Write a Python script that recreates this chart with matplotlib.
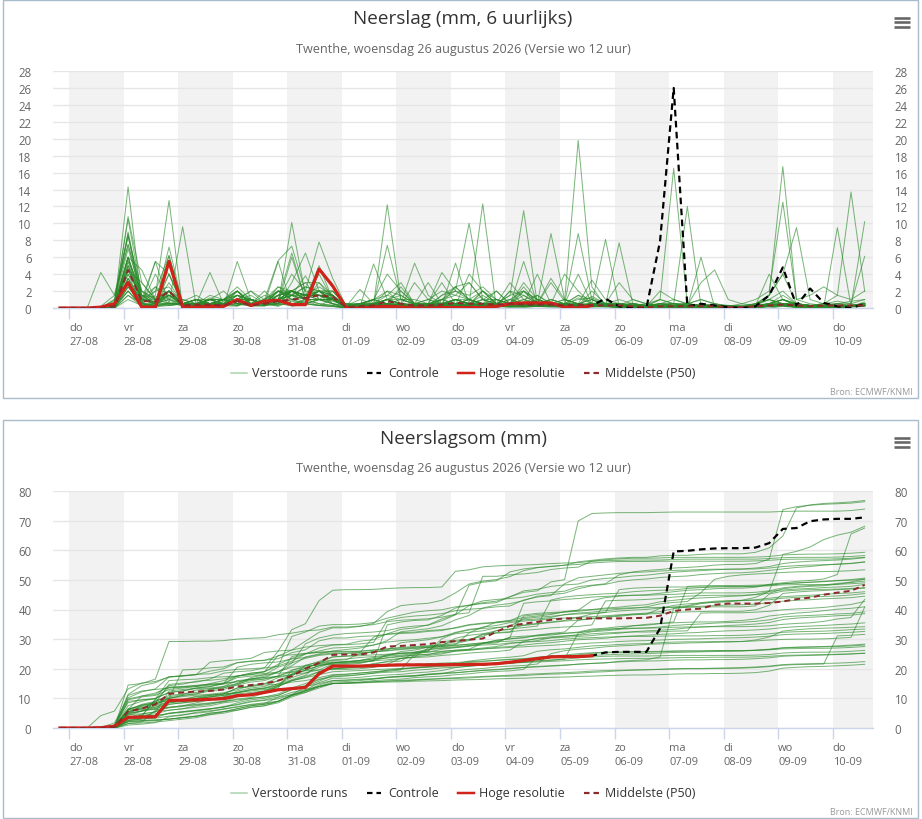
import numpy as np
import pandas as pd
import matplotlib
matplotlib.use("Agg")
import matplotlib.pyplot as plt
from matplotlib.lines import Line2D
from matplotlib.patches import Rectangle

plt.rcParams["font.family"] = ["Open Sans", "DejaVu Sans"]

# ---------------- data ----------------
TIMES = pd.date_range("2026-08-26 20:00", periods=60, freq="6h")   # valid times (local)
DAYS = pd.date_range("2026-08-27", "2026-09-10", freq="D")
WEEKDAYS_NL = ["ma", "di", "wo", "do", "vr", "za", "zo"]

TITLE_TOP = "Neerslag (mm, 6 uurlijks)"
TITLE_BOT = "Neerslagsom (mm)"
SUBTITLE = "Twenthe, woensdag 26 augustus 2026 (Versie wo 12 uur)"
LEGEND_LABELS = ["Verstoorde runs", "Controle", "Hoge resolutie", "Middelste (P50)"]
SOURCE = "Bron: ECMWF/KNMI"

HRES_6H = [0, 0, 0, 0.1, 0.5, 3.0, 0.1, 0.1, 5.5,
           0.1, 0.1, 0.2, 0.2, 1.0, 0.3, 0.8, 0.9, 0.4, 0.4, 4.6, 2.6,
           0, 0, 0.1, 0.2, 0.1, 0, 0, 0.05, 0.05, 0.05, 0.05, 0.2, 0.5, 0.6, 0.6, 0.6, 0.1, 0, 0.3]

CONTROL_6H = [0, 0, 0, 0.1, 0.5, 3.0, 0.1, 0.1, 5.5,
              0.1, 0.1, 0.2, 0.2, 1.0, 0.3, 0.8, 0.9, 0.4, 0.4, 4.6, 2.6,
              0, 0, 0.1, 0.2, 0.1, 0, 0, 0.05, 0.05, 0.05, 0.05, 0.2, 0.5, 0.6, 0.6, 0.6, 0.1, 0, 0.3,
              1.1, 0.2, 0, 0, 7.9, 26.0, 0.2, 0.5, 0.3, 0.1, 0, 0.2, 1.5, 4.8, 0.3, 2.3, 0.6, 0.2, 0, 0.5]

P50_6H = [0, 0, 0, 0, 0.2, 4.5, 0.8, 0.8, 2.0,
          0.3, 0.4, 0.4, 0.3, 0.8, 0.3, 0.5, 0.8, 1.0, 1.2, 1.5, 1.3,
          0.1, 0.2, 0.3, 0.8, 0.5, 0.3, 0.3, 0.4, 0.6, 0.5, 0.5, 0.4, 0.5, 0.4, 0.4, 0.4, 0.3, 0.4, 0.3,
          0.3, 0.3, 0.2, 0.1, 0.2, 0.2, 0.2, 0.2, 0.2, 0.1, 0.1, 0.2, 0.3, 0.4, 0.3, 0.2, 0.3, 0.3, 0.3, 0.3]

P50_SUM = [0, 0, 0, 0, 0.3, 5.6, 6.5, 8.0, 11.5,
           12.0, 12.3, 12.5, 13.0, 14.0, 14.5, 15.0, 16.0, 17.5, 20.0, 22.0, 24.7,
           24.8, 24.8, 25.5, 27.5, 27.7, 28.0, 28.3, 29.0, 29.3, 29.8, 30.2, 32.5, 34.5, 35.2, 35.8, 36.5, 37.0, 37.0, 37.0,
           37.0, 37.0, 37.1, 37.2, 37.9, 39.5, 40.0, 40.3, 41.6, 42.0, 42.0, 42.0, 42.2, 42.7, 43.5, 44.0, 45.0, 45.7, 46.3, 48.3]

# perturbed ensemble members, 6-hourly precipitation (mm)
M01 = [0, 0, 0, 0.2, 1.5, 8.5, 2.0, 1.0, 4.0,
       0.5, 0.3, 1.2, 0.8, 2.0, 0.5, 0.3, 1.5, 2.0, 3.0, 3.0, 1.5,
       0, 0.5, 1.0, 4.0, 2.0, 0.5, 0.3, 1.0, 2.5, 3.0, 1.0, 0.5, 1.0, 2.0, 1.0, 0.5, 0.3, 1.2, 0.5,
       0.5, 0.3, 0.2, 0, 0.5, 0.2, 0, 0.3, 0.2, 0, 0, 0.5, 1.5, 4.0, 9.5, 1.0, 0.5, 0.2, 0.3, 0.5]
M02 = [0, 0, 0, 0, 0.8, 4.5, 1.2, 2.5, 1.5,
       0.8, 1.5, 0.5, 0.3, 1.0, 2.0, 0.5, 0.2, 0.8, 0.5, 1.0, 2.0,
       0.2, 0.3, 0.5, 12.2, 1.0, 0.5, 0.2, 1.5, 2.5, 1.0, 0.5, 0.3, 2.0, 1.5, 0.5, 3.0, 0.8, 19.8, 2.5,
       0.2, 0.1, 0, 0, 0.1, 0.1, 0, 0, 0, 0, 0, 0, 0, 0.2, 0.1, 0, 0, 0, 0.2, 0.5]
M03 = [0, 0, 0, 0, 0.5, 10.8, 3.0, 1.0, 2.0,
       0.3, 0.5, 0.2, 1.0, 0.5, 0.2, 0.3, 0.5, 10.1, 1.5, 2.0, 0.5,
       0, 0.2, 0.5, 1.5, 1.0, 1.0, 0.5, 0.3, 1.0, 0.5, 1.5, 0.5, 0.3, 0.5, 1.0, 0.5, 0.5, 1.5, 0.5,
       0.5, 3.0, 1.0, 0.5, 0.3, 0.5, 0.2, 0.3, 0.5, 0.2, 0, 0.3, 1.5, 16.7, 1.0, 0.5, 0.3, 0.2, 0.2, 0.5]
M04 = [0, 0, 0, 0, 0.3, 6.0, 1.5, 0.5, 1.0,
       0.2, 0.5, 1.0, 0.5, 0.3, 1.0, 0.5, 1.0, 4.0, 2.0, 1.5, 0.5,
       0, 0.2, 0.3, 1.0, 0.5, 0.3, 0.2, 1.0, 0.5, 0.3, 2.0, 1.0, 0.5, 0.3, 1.0, 0.5, 0.5, 4.0, 0.5,
       0.5, 0.3, 0.5, 0.2, 2.0, 1.0, 0.5, 0.3, 0.2, 0.2, 0.5, 1.0, 2.0, 12.5, 1.0, 1.5, 2.5, 1.5, 1.0, 2.0]
M05 = [0, 0, 0, 0, 0, 3.5, 0.5, 5.5, 0.5,
       9.6, 0.2, 0.5, 0.3, 1.5, 0.5, 0.3, 0.5, 2.0, 1.0, 3.0, 1.0,
       0, 0.5, 0.2, 0.5, 0.3, 0.2, 0.5, 0.3, 1.0, 1.0, 0.5, 0.3, 0.5, 2.0, 0.5, 0.3, 0.2, 0.5, 3.3,
       1.0, 0.5, 0.3, 0.2, 0.5, 0.5, 0.5, 0.2, 0.3, 0.2, 0, 0.3, 1.0, 0.5, 0.5, 0.3, 0.5, 1.5, 13.7, 2.0]
M06 = [0, 0, 0, 0, 0.2, 14.3, 0.5, 1.5, 12.7,
       0, 0.1, 0, 0.2, 0.5, 0.3, 0.2, 1.0, 0.5, 0.8, 0.3, 1.0,
       0, 0.3, 0.5, 1.0, 0.5, 0.2, 0.3, 0.5, 1.0, 0.5, 12.3, 0, 0.5, 0.3, 0.5, 1.0, 0.5, 0.3, 2.0,
       0.5, 0.3, 0.2, 0, 0.1, 0.2, 0, 0, 0, 0, 0, 0.1, 0.2, 0.5, 0.2, 0.1, 0, 0.1, 0.2, 0.3]
M07 = [0, 0, 0, 0, 0.5, 5.0, 1.0, 2.0, 6.2,
       0.5, 0.3, 1.0, 2.0, 0.5, 0.3, 1.0, 5.6, 7.3, 2.0, 7.8, 3.5,
       0.2, 0, 0.1, 0.3, 0.2, 0.1, 0, 0.2, 5.3, 0.5, 1.0, 0.3, 0.2, 0.1, 0.2, 0.3, 0.2, 0.1, 0.5,
       0.2, 0.1, 0.1, 0, 0, 0.2, 0.1, 0, 0, 0, 0, 0, 0.2, 0.3, 0.1, 0, 0, 0.1, 0.2, 0.3]
M08 = [0, 0, 0, 0, 1.0, 8.8, 1.0, 0.5, 3.0,
       0.5, 1.0, 0.3, 0.5, 1.0, 0.5, 0.3, 0.5, 3.0, 6.5, 2.0, 1.0,
       0.5, 0.2, 0.3, 0.5, 1.0, 0.5, 0.3, 1.5, 2.0, 10.0, 1.0, 0.5, 3.0, 1.0, 0.5, 0.3, 0.5, 0.2, 0.5,
       0.3, 0.2, 0, 0, 0.1, 0, 0, 0, 0, 0, 0, 0.1, 0.2, 0.3, 0.1, 0, 0, 0.1, 0.2, 0.3]
M09 = [0, 0, 0, 4.2, 1.5, 7.5, 2.0, 0.5, 1.5,
       0.3, 0.5, 4.2, 0.5, 0.3, 0.5, 2.0, 0.5, 0.3, 1.0, 0.5, 0.3,
       0, 0.3, 0.5, 7.4, 1.0, 0.5, 0.3, 0.5, 1.0, 0.5, 0.3, 0.5, 0.3, 2.0, 1.0, 0.5, 4.0, 2.0, 0.5,
       0.5, 0.5, 0.3, 0.2, 0.3, 0.2, 0.1, 0.2, 0.1, 0, 0, 0.1, 0.3, 0.5, 0.3, 0.2, 0.1, 0.2, 0.3, 0.5]
M10 = [0, 0, 0, 0, 0.3, 6.0, 4.5, 1.0, 2.0,
       0.2, 0.3, 0.5, 0.2, 5.5, 1.0, 0.5, 0.3, 1.0, 0.5, 1.0, 0.5,
       0, 0.2, 5.2, 1.0, 0.5, 0.2, 0.5, 0.3, 0.5, 1.0, 0.5, 0.3, 0.5, 0.5, 0.3, 0.5, 1.0, 0.5, 0.3,
       0.5, 0.5, 0.3, 0.5, 1.0, 0.5, 0.3, 3.0, 4.5, 1.0, 0.5, 0.3, 0.2, 0.3, 0.2, 0.1, 0, 0.1, 0.2, 0.3]
M11 = [0, 0, 0, 0, 0.2, 3.0, 1.0, 5.5, 4.0,
       0.2, 0.5, 0.3, 0.5, 0.3, 1.0, 0.5, 2.0, 1.5, 0.5, 0.3, 0.2,
       0, 0.3, 1.0, 2.0, 0.5, 0.3, 0.5, 3.0, 0.5, 0.3, 1.0, 2.0, 0.5, 0.5, 0.5, 8.8, 1.0, 0.5, 0.3,
       0.3, 0.2, 0.5, 0.3, 0.2, 0.1, 0.5, 0.3, 0.2, 0.1, 0, 0.2, 0.3, 0.5, 0.3, 0.2, 0.3, 0.3, 0.3, 0.5]
M12 = [0, 0, 0, 0, 0.5, 4.0, 0.3, 0.5, 7.2,
       0.5, 0.3, 0.2, 0.5, 1.0, 2.0, 1.0, 0.5, 0.3, 0.5, 0.3, 0.2,
       0, 0.2, 0.5, 1.0, 2.0, 0.5, 3.0, 0.5, 0.3, 0.5, 0.3, 0.5, 1.5, 11.5, 0.5, 0.3, 0.5, 0.3, 0.5,
       0.2, 0.3, 0.1, 0, 0.2, 0.1, 0.3, 0.2, 0, 0, 0, 0.2, 0.5, 1.0, 0.5, 0.3, 0.2, 0.5, 0.3, 0.5]
M13 = [0, 0, 0, 0, 0.1, 5.0, 0.5, 2.0, 2.5,
       0.5, 0.5, 0.3, 0.5, 1.0, 1.5, 0.5, 1.0, 1.5, 3.8, 1.0, 0.8,
       0.3, 0.5, 0.3, 0.5, 0.5, 0.3, 0.5, 4.2, 2.0, 1.0, 0.5, 0.3, 0.5, 2.5, 0.5, 0.3, 0.5, 0.3, 0.2,
       0.3, 7.7, 0.5, 0.2, 0.1, 0.1, 0, 0, 0.1, 0, 0, 0.1, 0.2, 0.3, 0.1, 0, 0, 0.1, 0.2, 0.3]
M14 = [0, 0, 0, 0, 0.5, 10.5, 1.5, 0.5, 0.5,
       0.3, 0.2, 0.5, 0.3, 1.0, 0.5, 0.3, 1.0, 6.5, 1.0, 0.5, 0.3,
       0, 0, 0.3, 0.5, 0.3, 0.2, 0.5, 0.3, 0.5, 1.0, 2.0, 0.5, 0.3, 5.5, 0.5, 0.3, 0.5, 0.3, 0.5,
       0.3, 0.2, 0.2, 0, 0.1, 0.1, 0, 0, 0.1, 0, 0, 0.3, 4.0, 1.0, 0.3, 0.2, 0.1, 0.1, 0.2, 0.3]
M15 = [0, 0, 0, 0, 0.2, 4.5, 3.0, 1.0, 0.5,
       0.5, 1.0, 0.5, 0.3, 2.0, 0.5, 0.5, 0.3, 1.5, 1.5, 4.0, 1.0,
       0.2, 2.2, 0.5, 0.3, 0.5, 0.3, 0.5, 0.5, 0.3, 4.0, 2.0, 0.5, 1.0, 0.5, 0.3, 0.5, 0.2, 0.3, 0.2,
       0.3, 0.3, 0.2, 0.1, 0.2, 0.3, 0.2, 0.1, 0.1, 0, 0, 0.5, 1.5, 4.0, 0.5, 0.3, 0.2, 0.3, 0.2, 0.3]
M16 = [0, 0, 0, 0, 0.5, 8.5, 0.5, 0.3, 6.2,
       0.3, 0.2, 0.5, 0.3, 0.2, 1.0, 0.5, 5.5, 0.2, 0.5, 0.3, 0.2,
       0, 0.2, 0.5, 0.3, 0.5, 0.3, 0.2, 0.5, 1.0, 0.5, 2.0, 0.5, 0.3, 0.5, 0.3, 0.5, 0.3, 0.2, 0.5,
       8.1, 0.2, 0.1, 0.2, 0.3, 0.5, 0.3, 0.2, 0.1, 0, 0, 0.2, 0.5, 1.5, 0.5, 0.3, 0.2, 0.5, 0.8, 1.0]
M17 = [0, 0, 0, 0, 0, 1.5, 0.5, 4.0, 1.0,
       0.5, 0.5, 0.5, 0.5, 0.5, 0.5, 0.5, 0.5, 2.0, 1.0, 1.0, 1.0,
       0.1, 0.2, 0.3, 0.5, 0.3, 0.2, 0.5, 0.3, 0.2, 0.5, 0.3, 0.2, 0.5, 0.3, 0.2, 0.3, 0.2, 0.5, 0.2,
       0.2, 0.5, 0.3, 0.2, 1.0, 16.5, 0.5, 1.0, 0.5, 0.3, 0.2, 0.1, 0.2, 0.5, 0.3, 0.2, 0.1, 0.2, 0.3, 0.5]
M18 = [0, 0, 0, 0, 0.2, 5.5, 0.5, 0.3, 2.0,
       0.5, 0.5, 1.0, 1.0, 0.5, 0.5, 0.5, 0.5, 6.0, 1.0, 1.0, 0.5,
       0.3, 0.5, 1.0, 0.5, 0.3, 0.5, 0.5, 1.0, 0.5, 0.5, 1.0, 1.0, 0.5, 0.5, 0.5, 0.3, 0.5, 0.5, 1.0,
       0.3, 0.5, 0.3, 0.2, 0.5, 0.3, 0.2, 0.1, 0, 0.2, 0.3, 0.5, 1.0, 0.5, 0.5, 0.3, 0.5, 0.5, 0.3, 0.5]
M19 = [0, 0, 0, 0, 0.5, 3.0, 0.3, 0.2, 4.0,
       0.5, 0.5, 0.5, 0.5, 1.0, 0.5, 1.0, 2.0, 1.0, 0.5, 1.0, 1.0,
       0.2, 0.3, 0.5, 0.5, 0.3, 0.5, 0.3, 0.5, 0.5, 1.0, 0.5, 0.5, 0.3, 0.5, 1.5, 0.5, 0.3, 0.5, 0.5,
       0.2, 0.3, 0.2, 0.1, 0.3, 0.2, 0.1, 0, 0.1, 0, 0, 0.2, 0.3, 0.2, 0.1, 0, 0.1, 0.2, 0.3, 10.2]
M20 = [0, 0, 0, 0, 0, 3.0, 0.5, 0.5, 1.0,
       0.5, 0.5, 0.5, 0.5, 1.5, 1.0, 0.5, 1.0, 2.0, 1.0, 5.0, 1.0,
       0.3, 0.5, 1.0, 0.5, 0.3, 3.0, 1.0, 0.5, 0.3, 0.5, 0.5, 0.3, 2.0, 0.3, 0.2, 0.5, 0.3, 0.2, 0.5,
       0.5, 0.3, 1.0, 0.5, 0.3, 0.5, 12.0, 0.2, 0.1, 0, 0, 0.1, 0.2, 0.3, 0.2, 0.3, 0.2, 0.3, 0.2, 0.3]
M21 = [0, 0, 0, 0, 0.3, 4.5, 1.0, 0.5, 0.5,
       0.5, 0.5, 0.5, 0.5, 1.0, 0.5, 1.5, 1.0, 0.5, 1.0, 2.0, 1.0,
       0.2, 0.5, 0.5, 0.3, 0.2, 0.5, 0.3, 0.5, 0.2, 0.3, 0.5, 0.3, 0.2, 0.5, 0.3, 0.2, 0.5, 8.8, 1.0,
       0.3, 0.2, 0.1, 0, 0.1, 0.2, 0.1, 0, 0.1, 0, 0, 0.1, 0.2, 0.5, 0.3, 0.2, 0.5, 0.8, 0.5, 6.1]
M22 = [0, 0, 0, 0, 0.2, 6.0, 0.5, 0.3, 1.5,
       0.5, 1.0, 0.5, 0.5, 1.0, 1.0, 0.5, 1.5, 2.0, 1.5, 2.0, 1.5,
       0, 0.2, 0.5, 0.3, 0.5, 0.3, 0.2, 0.5, 0.3, 0.5, 0.3, 0.2, 0.5, 3.0, 1.0, 0.5, 0.3, 0.2, 0.5,
       0.3, 0.2, 0.1, 0, 0.1, 0.2, 0.1, 6.0, 0.1, 0, 0, 0.2, 0.3, 0.5, 0.3, 0.2, 0.3, 0.5, 0.5, 1.0]
M23 = [0, 0, 0, 0, 0, 2.5, 0.5, 0.3, 0.7,
       0.5, 0.5, 0.5, 1.0, 0.5, 1.0, 0.5, 0.5, 2.0, 1.0, 2.0, 1.5,
       0.2, 0.3, 0.5, 0.5, 0.3, 0.2, 0.5, 0.3, 1.0, 0.5, 0.3, 0.5, 0.3, 0.2, 0.5, 3.5, 1.0, 0.5, 0.3,
       0.5, 0.3, 0.2, 0.3, 0.2, 0.1, 0.2, 0.1, 0.1, 0.1, 0.2, 0.5, 1.0, 2.0, 0.5, 0.3, 0.2, 0.1, 0.2, 0.2]
M24 = [0, 0, 0, 0, 0.3, 3.5, 0.3, 0.2, 0.5,
       0.5, 0.5, 0.5, 1.0, 0.5, 1.0, 0.5, 0.5, 1.5, 2.5, 2.0, 2.0,
       0.3, 0.5, 0.3, 0.2, 0.5, 5.3, 1.5, 0.5, 0.3, 0.5, 0.3, 0.2, 0.5, 0.3, 0.2, 0.3, 0.5, 0.3, 0.2,
       0.2, 0.1, 0.1, 0, 0.1, 0.1, 0, 0, 0.1, 0, 0.1, 0.2, 0.3, 0.5, 0.2, 0.1, 0.1, 0.2, 0.3, 0.2]
M25 = [0, 0, 0, 0, 0.2, 2.0, 0.3, 0.2, 0.3,
       0.5, 0.5, 0.5, 1.0, 0.5, 1.0, 0.5, 1.5, 2.0, 1.5, 1.5, 1.0,
       0.2, 0.3, 0.5, 0.3, 0.2, 0.5, 0.3, 0.2, 0.5, 0.3, 0.5, 0.3, 0.2, 0.5, 4.0, 0.5, 0.3, 0.5, 0.3,
       0.2, 0.1, 0.1, 0, 0.1, 0.1, 0, 0, 0.1, 0, 0, 0.2, 0.3, 0.5, 0.2, 0.1, 0.1, 0.2, 0.3, 0.3]
M26 = [0, 0, 0, 0, 0.2, 2.5, 0.5, 2.5, 0.3,
       0.5, 0.5, 0.5, 1.0, 0.5, 1.0, 0.5, 1.0, 2.0, 1.5, 1.5, 1.0,
       0.2, 0.3, 0.5, 1.0, 0.5, 0.3, 0.5, 0.5, 0.3, 0.5, 0.3, 0.5, 0.3, 0.2, 0.5, 0.3, 0.2, 0.3, 0.5,
       0.2, 0.1, 0.1, 0, 0.1, 0.2, 0.1, 0, 0.1, 0, 0, 0.1, 0.2, 0.3, 0.1, 0.1, 0, 0.1, 0.2, 0.3]
M27 = [0, 0, 0, 0, 0, 1.0, 0.3, 0.5, 2.0,
       0.5, 1.0, 0.5, 0.5, 1.0, 0.5, 0.5, 2.0, 1.0, 1.5, 2.5, 1.5,
       0, 0.3, 0.5, 0.3, 0.2, 0.5, 0.3, 0.5, 1.0, 0.5, 0.3, 0.5, 0.3, 0.2, 0.5, 0.3, 0.2, 0.5, 0.3,
       0.2, 0.1, 0, 0, 0.1, 0.1, 0, 0, 0, 0, 0, 0.1, 0.2, 0.5, 0.2, 0.1, 0, 0.1, 0.2, 0.3]
M28 = [0, 0, 0, 0, 0.2, 2.0, 0.3, 0.2, 0.3,
       0.5, 0.5, 1.0, 0.5, 1.0, 1.0, 0.5, 1.0, 2.0, 1.5, 2.0, 1.5,
       0.2, 0.3, 0.2, 0.5, 0.3, 0.2, 0.5, 0.3, 0.2, 0.3, 0.5, 0.3, 0.2, 0.5, 0.3, 0.2, 0.3, 0.2, 0.3,
       0.2, 0.3, 0.2, 0.1, 0.1, 0.2, 0.1, 0, 0.1, 0, 0.1, 0.2, 0.3, 0.5, 0.2, 0.1, 0.1, 0.2, 0.2, 0.3]
M29 = [0, 0, 0, 0, 0, 1.5, 0.2, 0.3, 0.5,
       0.5, 0.5, 1.0, 0.5, 1.0, 1.0, 0.5, 1.0, 2.0, 1.5, 1.5, 1.5,
       0.1, 0.2, 0.3, 0.2, 0.1, 0.2, 0.3, 0.2, 0.1, 0.2, 0.3, 0.2, 0.1, 0.2, 0.3, 0.2, 0.1, 0.2, 0.3,
       0.2, 0.3, 0.2, 0.1, 0.2, 0.1, 0.1, 0, 0.1, 0, 0.1, 0.2, 0.3, 0.5, 0.2, 0.1, 0.1, 9.5, 0.2, 0.3]
M30 = [0, 0, 0, 0, 0, 2.0, 0.2, 0.3, 0.5,
       0.5, 0.5, 1.0, 0.5, 1.0, 1.0, 0.5, 1.0, 2.0, 1.5, 1.5, 1.0,
       0.1, 0.1, 0.2, 0.1, 0.1, 0.2, 0.1, 0.1, 0.2, 0.1, 0.1, 0.2, 0.1, 0.1, 0.2, 0.1, 0.1, 0.2, 0.1,
       0.2, 0.1, 0.1, 0, 0.1, 0.2, 0.1, 0, 0.1, 0, 0.1, 0.2, 0.5, 1.0, 0.3, 0.2, 0.1, 0.2, 0.2, 0.3]
M31 = [0, 0, 0, 0, 0.5, 7.0, 1.5, 1.0, 2.0,
       0.5, 1.0, 0.5, 1.0, 2.5, 1.0, 0.5, 2.0, 1.5, 2.5, 2.0, 1.0,
       0.3, 1.0, 0.5, 2.0, 1.5, 0.5, 1.0, 2.0, 1.5, 3.0, 1.0, 0.5, 1.5, 2.0, 0.5, 1.0, 0.5, 0.3, 1.4,
       0.5, 0.3, 0.5, 0.3, 0.5, 0.5, 0.3, 0.2, 0.3, 0.2, 0.1, 0.3, 0.5, 1.0, 0.5, 0.3, 0.2, 0.2, 0.3, 0.5]
M32 = [0, 0, 0, 0, 0.3, 6.0, 1.0, 0.7, 2.0,
       1.0, 0.5, 1.5, 1.0, 2.0, 0.5, 1.0, 1.5, 2.0, 3.0, 1.0, 1.0,
       0.5, 0.5, 1.0, 1.5, 3.0, 0.5, 0.5, 1.0, 2.0, 1.5, 2.5, 1.0, 0.5, 1.0, 1.5, 0.5, 0.5, 1.5, 1.0,
       0.5, 1.0, 0.5, 0.3, 0.5, 0.3, 0.2, 0.5, 0.3, 0.2, 0.1, 0.3, 0.5, 0.5, 0.5, 0.3, 0.5, 0.3, 0.2, 0.5]
M33 = [0, 0, 0, 0, 0.5, 5.5, 2.0, 1.0, 2.0,
       0.5, 0.5, 1.0, 0.5, 1.5, 1.0, 0.5, 1.0, 1.5, 1.0, 2.0, 2.0,
       0.3, 0.5, 1.0, 0.5, 2.5, 0.5, 0.5, 1.0, 1.5, 1.0, 0.5, 2.0, 0.5, 1.0, 0.5, 0.5, 1.0, 0.5, 0.2,
       0.5, 0.3, 0.5, 0.3, 1.0, 0.5, 0.5, 0.3, 0.2, 0.3, 0.2, 0.5, 1.0, 0.5, 0.3, 0.2, 0.3, 0.2, 0.2, 0.7]
M34 = [0, 0, 0, 0, 0.2, 4.0, 1.5, 1.3, 2.0,
       0.5, 1.0, 0.5, 0.5, 2.0, 0.5, 1.0, 2.0, 1.0, 1.5, 1.5, 1.0,
       0.5, 0.3, 0.5, 1.0, 1.5, 0.5, 1.0, 0.5, 2.5, 1.0, 0.5, 1.0, 0.5, 1.5, 0.5, 0.5, 0.5, 1.0, 1.2,
       0.5, 0.5, 0.3, 0.2, 0.5, 0.3, 0.5, 1.0, 0.5, 0.2, 0.1, 0.2, 0.5, 0.5, 0.3, 0.2, 0.3, 0.3, 0.2, 0.4]
M35 = [0, 0, 0, 0, 0.5, 9.0, 1.0, 0.5, 2.0,
       0.5, 0.5, 1.0, 1.0, 1.5, 0.5, 1.0, 2.5, 2.0, 1.5, 1.0, 1.0,
       0.2, 0.3, 0.5, 1.0, 0.5, 0.3, 0.5, 0.5, 1.0, 0.5, 0.5, 1.0, 0.5, 0.3, 0.5, 0.5, 0.5, 0.3, 0.6,
       0.5, 0.5, 0.5, 0.3, 0.5, 1.0, 0.5, 0.3, 0.2, 0.2, 0.1, 0.2, 0.5, 0.5, 0.3, 0.2, 0.3, 0.2, 0.2, 0.5]
M36 = [0, 0, 0, 0, 0.3, 4.5, 1.0, 0.7, 1.5,
       0.5, 0.5, 0.5, 1.0, 1.0, 0.5, 0.5, 1.5, 2.0, 1.0, 2.0, 1.0,
       0.5, 0.5, 0.5, 1.0, 1.0, 0.5, 0.5, 0.5, 1.0, 0.5, 0.5, 0.5, 1.0, 0.5, 0.5, 1.0, 0.5, 0.5, 1.0,
       0.3, 0.5, 0.3, 0.2, 0.3, 0.5, 0.3, 0.2, 0.3, 0.2, 0.1, 0.3, 0.5, 1.0, 0.3, 0.2, 0.2, 0.3, 0.2, 0.5]
M37 = [0, 0, 0, 0, 1.0, 7.5, 1.0, 0.5, 2.0,
       0.5, 1.0, 0.5, 1.0, 2.0, 0.5, 0.5, 2.5, 1.5, 1.5, 1.0, 0.5,
       0.2, 0.2, 0.3, 0.5, 0.5, 0.3, 0.2, 0.3, 0.5, 0.3, 0.5, 0.3, 0.2, 0.3, 0.5, 0.3, 0.2, 0.3, 0.3,
       0.5, 0.3, 0.5, 0.3, 0.2, 0.3, 0.5, 0.3, 0.2, 0.3, 0.2, 0.3, 0.5, 1.0, 0.5, 0.3, 0.2, 0.3, 0.2, 0.5]
M38 = [0, 0, 0, 0, 0.2, 3.5, 1.0, 0.8, 1.5,
       0.5, 1.0, 1.0, 1.0, 2.0, 1.0, 0.5, 2.0, 2.0, 1.5, 1.5, 1.0,
       0.3, 0.5, 0.5, 0.3, 0.5, 0.5, 0.3, 0.5, 0.5, 0.3, 0.5, 0.5, 0.3, 0.5, 0.5, 0.3, 0.5, 0.5, 0.2,
       0.3, 0.5, 0.3, 0.2, 0.3, 0.2, 0.3, 0.2, 0.3, 0.2, 0.1, 0.2, 0.3, 0.5, 0.3, 0.2, 0.2, 0.3, 0.2, 0.4]
M39 = [0, 0, 0, 0, 0.5, 6.0, 1.0, 1.0, 1.5,
       1.0, 0.5, 1.0, 0.5, 1.5, 1.0, 0.5, 1.5, 2.0, 1.5, 1.5, 1.5,
       0.2, 0.2, 0.3, 0.2, 0.3, 0.2, 0.3, 0.2, 0.3, 0.2, 0.3, 0.2, 0.3, 0.2, 0.3, 0.2, 0.3, 0.2, 0.3,
       0.2, 0.3, 0.2, 0.1, 0.2, 0.2, 0.1, 0.1, 0.2, 0.1, 0.1, 0.2, 0.3, 0.5, 0.2, 0.1, 0.1, 0.2, 0.2, 0.3]
M40 = [0, 0, 0, 0, 0.3, 3.0, 1.0, 0.5, 1.2,
       0.5, 1.0, 0.5, 1.0, 1.5, 1.0, 0.5, 2.0, 2.0, 1.5, 1.5, 1.0,
       0.2, 0.3, 0.2, 0.3, 0.2, 0.2, 0.3, 0.2, 0.2, 0.3, 0.2, 0.2, 0.3, 0.2, 0.2, 0.3, 0.2, 0.2, 0.3,
       0.2, 0.2, 0.1, 0.1, 0.2, 0.2, 0.1, 0.1, 0.1, 0.1, 0.1, 0.2, 0.3, 0.5, 0.2, 0.1, 0.1, 0.1, 0.2, 0.3]
M41 = [0, 0, 0, 0, 0.5, 5.0, 1.5, 0.5, 1.5,
       0.5, 0.5, 0.5, 0.5, 1.0, 1.0, 0.5, 1.0, 1.5, 1.0, 1.0, 1.0,
       0.2, 0.2, 0.3, 0.2, 0.2, 0.2, 0.2, 0.3, 0.2, 0.2, 0.2, 0.2, 0.3, 0.2, 0.2, 0.2, 0.2, 0.3, 0.2,
       0.1, 0.1, 0.1, 0, 0.1, 0.1, 0.1, 0, 0.1, 0, 0, 0.1, 0.2, 0.3, 0.1, 0.1, 0.1, 0.1, 0.1, 0.2]
M42 = [0, 0, 0, 0, 0, 2.5, 0.5, 0.5, 1.5,
       0.5, 0.5, 0.5, 0.5, 1.0, 1.0, 0.5, 1.0, 1.5, 1.0, 1.0, 1.0,
       0.2, 0.2, 0.2, 0.3, 0.2, 0.2, 0.2, 0.2, 0.3, 0.2, 0.2, 0.2, 0.2, 0.3, 0.2, 0.2, 0.2, 0.2, 0.3,
       0.2, 0.1, 0.1, 0.1, 0.1, 0.2, 0.1, 0, 0.1, 0.1, 0.1, 0.2, 0.3, 0.5, 0.2, 0.1, 0.1, 0.1, 0.2, 0.3]

MEMBERS_6H = [M01, M02, M03, M04, M05, M06, M07, M08, M09, M10,
              M11, M12, M13, M14, M15, M16, M17, M18, M19, M20,
              M21, M22, M23, M24, M25, M26, M27, M28, M29, M30,
              M31, M32, M33, M34, M35, M36, M37, M38, M39, M40, M41, M42]
for k, m in enumerate(MEMBERS_6H):
    assert len(m) == 60, f"member {k+1} has {len(m)} values"
assert len(CONTROL_6H) == 60 and len(HRES_6H) == 40 and len(P50_6H) == 60 and len(P50_SUM) == 60

# ---------------- styling ----------------
W, H = 922, 820
GREEN = "#2a8a2a"
GREEN_LEG = "#a9d3a9"
RED = "#d0231a"
P50_COL = "#8b2b2b"
BAND = "#f2f2f2"
GRID = "#e6e6e6"
AXIS = "#ccd6eb"
FRAME = "#a9bccb"
TXT = "#333333"
TXT2 = "#666666"

fig = plt.figure(figsize=(W / 100, H / 100), dpi=100)


def fx(x):
    return x / W


def fy(y):
    return 1 - y / H


def px2pt(p):
    return p * 0.72


def draw_panel(off, title, ymax, ystep, members, control, hres, p50):
    ax = fig.add_axes([fx(53), fy(309 + off), fx(873) - fx(53), (309 - 72) / H])
    for k, d in enumerate(DAYS):
        if k % 2 == 0:
            ax.axvspan(d, d + pd.Timedelta(days=1), color=BAND, lw=0, zorder=0)
    for m in members:
        ax.plot(TIMES, m, color=GREEN, lw=px2pt(1.0), alpha=0.62, zorder=2)
    ax.plot(TIMES, control, color="black", lw=px2pt(2.2), dashes=(3, 2), zorder=3)
    ax.plot(TIMES[:len(hres)], hres, color=RED, lw=px2pt(3.2), zorder=4,
            solid_joinstyle="round")
    ax.plot(TIMES, p50, color=P50_COL, lw=px2pt(2.0), dashes=(3, 2), zorder=5)

    ax.set_xlim(pd.Timestamp("2026-08-26 16:58"), pd.Timestamp("2026-09-10 17:40"))
    ax.set_ylim(0, ymax)
    ax.set_yticks(np.arange(0, ymax + 0.1, ystep))
    ax.set_yticklabels([f"{v:g}" for v in np.arange(0, ymax + 0.1, ystep)])
    ax.set_xticks(DAYS)
    ax.set_xticklabels([f"{WEEKDAYS_NL[d.weekday()]}\n{d.strftime('%d-%m')}" for d in DAYS],
                       ha="left", linespacing=1.35)
    ax.tick_params(axis="x", length=8, width=1, color=AXIS, pad=2,
                   labelsize=8, labelcolor=TXT2)
    ax.tick_params(axis="y", left=False, right=False, labelleft=True, labelright=True,
                   labelsize=8.3, labelcolor=TXT2, pad=12)
    ax.yaxis.grid(True, color=GRID, lw=1)
    ax.set_axisbelow(True)
    for s in ["top", "left", "right"]:
        ax.spines[s].set_visible(False)
    ax.spines["bottom"].set_color(AXIS)
    ax.spines["bottom"].set_linewidth(1)
    ax.spines["bottom"].set_zorder(1)

    # titles
    fig.text(fx(463), fy(19 + off), title, ha="center", va="center", fontsize=13.6, color=TXT)
    fig.text(fx(463), fy(49 + off), SUBTITLE, ha="center", va="center", fontsize=9.1, color=TXT2)

    # legend
    ly = fy(374 + off)
    items = [(231, 247, 252, dict(color=GREEN_LEG, lw=px2pt(1.5))),
             (367, 381, 388, dict(color="black", lw=px2pt(2.2), dashes=(2.5, 1.8))),
             (458, 474, 479, dict(color=RED, lw=px2pt(2.5))),
             (584, 599, 605, dict(color=P50_COL, lw=px2pt(2.2), dashes=(2.5, 1.8)))]
    for (x0, x1, xt, st), lab in zip(items, LEGEND_LABELS):
        fig.add_artist(Line2D([fx(x0), fx(x1)], [ly, ly], transform=fig.transFigure, **st))
        fig.text(fx(xt), ly, lab, ha="left", va="center", fontsize=9, color=TXT)

    fig.text(fx(913), fy(393 + off), SOURCE, ha="right", va="center", fontsize=6.5, color="#999999")

    # menu icon
    for yy in (18.5, 23, 27.5):
        fig.add_artist(Line2D([fx(894), fx(910)], [fy(yy + off), fy(yy + off)],
                              transform=fig.transFigure, color=TXT2, lw=px2pt(2.6),
                              solid_capstyle="butt"))
    # frame
    fig.add_artist(Rectangle((fx(3), fy(399 + off)), fx(918) - fx(3), 398 / H,
                             transform=fig.transFigure, fill=False, edgecolor=FRAME, lw=1))
    return ax


members_arr = np.array(MEMBERS_6H, dtype=float)
draw_panel(0, TITLE_TOP, 28, 2, members_arr, CONTROL_6H, HRES_6H, P50_6H)
draw_panel(420, TITLE_BOT, 80, 10, np.cumsum(members_arr, axis=1),
           np.cumsum(CONTROL_6H), np.cumsum(HRES_6H), P50_SUM)

fig.savefig("out.png", dpi=100, facecolor="white")
